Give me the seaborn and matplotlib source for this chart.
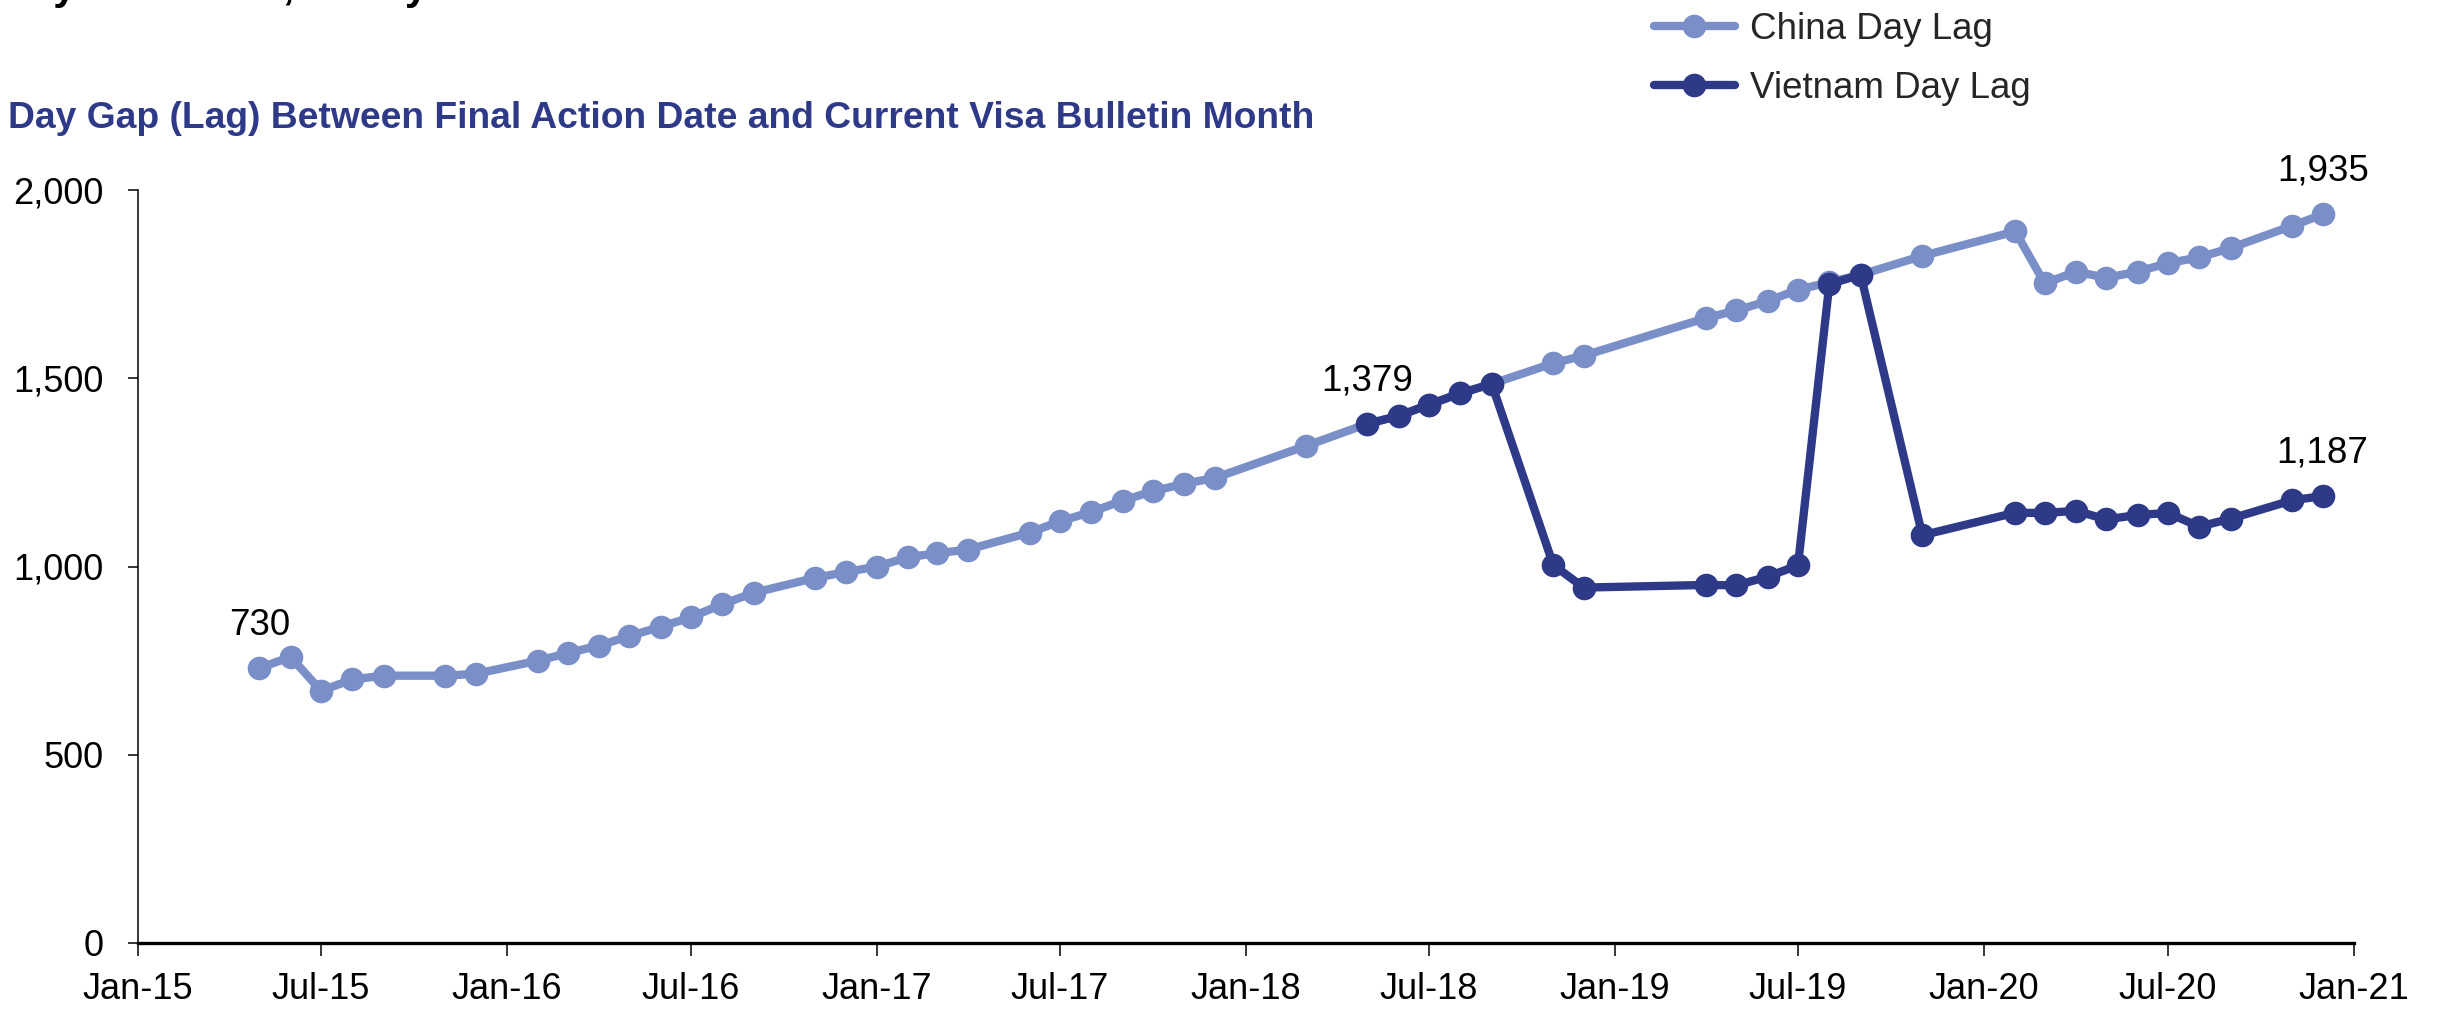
import pandas as pd
import numpy as np
import matplotlib.pyplot as plt
import matplotlib.dates as mdates
import matplotlib.ticker as mticker
import seaborn as sns

sns.set_theme(style="ticks")
plt.rcParams['font.family'] = ['Liberation Sans', 'DejaVu Sans']

# visa bulletin months and day lag
china_months = ['2015-05', '2015-06', '2015-07', '2015-08', '2015-09', '2015-11', '2015-12',
                '2016-02', '2016-03', '2016-04', '2016-05', '2016-06', '2016-07', '2016-08', '2016-09',
                '2016-11', '2016-12', '2017-01', '2017-02', '2017-03', '2017-04',
                '2017-06', '2017-07', '2017-08', '2017-09', '2017-10', '2017-11', '2017-12',
                '2018-03', '2018-05', '2018-06', '2018-07', '2018-08', '2018-09', '2018-11', '2018-12',
                '2019-04', '2019-05', '2019-06', '2019-07', '2019-08', '2019-09', '2019-11',
                '2020-02', '2020-03', '2020-04', '2020-05', '2020-06', '2020-07', '2020-08', '2020-09',
                '2020-11', '2020-12']
china_lag = [730, 760, 670, 700, 710, 710, 715,
             750, 770, 790, 815, 840, 865, 900, 930,
             970, 985, 1000, 1025, 1035, 1045,
             1090, 1120, 1145, 1175, 1200, 1220, 1235,
             1320, 1379, 1400, 1430, 1460, 1485, 1540, 1560,
             1660, 1680, 1705, 1735, 1755, 1775, 1825,
             1890, 1752, 1783, 1767, 1783, 1806, 1821, 1846,
             1905, 1935]

vietnam_months = ['2018-05', '2018-06', '2018-07', '2018-08', '2018-09', '2018-11', '2018-12',
                  '2019-04', '2019-05', '2019-06', '2019-07', '2019-08', '2019-09', '2019-11',
                  '2020-02', '2020-03', '2020-04', '2020-05', '2020-06', '2020-07', '2020-08', '2020-09',
                  '2020-11', '2020-12']
vietnam_lag = [1379, 1400, 1430, 1460, 1485, 1004, 944,
               951, 950, 973, 1003, 1750, 1775, 1083,
               1143, 1142, 1148, 1125, 1137, 1142, 1106, 1127,
               1176, 1187]

china_color = '#7A8EC8'
vietnam_color = '#2E3A87'

df_china = pd.DataFrame({'Month': pd.to_datetime(china_months), 'Lag': china_lag})
df_vn = pd.DataFrame({'Month': pd.to_datetime(vietnam_months), 'Lag': vietnam_lag})

fig = plt.figure(figsize=(24.4, 10.09), dpi=100)
ax = fig.add_axes([138/2440, 1 - 943/1009, (2354-138)/2440, (943-190)/1009])

sns.lineplot(data=df_china, x='Month', y='Lag', ax=ax, color=china_color, linewidth=6,
             marker='o', markersize=17, markeredgewidth=0, label='China Day Lag')
sns.lineplot(data=df_vn, x='Month', y='Lag', ax=ax, color=vietnam_color, linewidth=6,
             marker='o', markersize=17, markeredgewidth=0, label='Vietnam Day Lag')

ax.set_xlim(pd.Timestamp('2015-01-01'), pd.Timestamp('2021-01-01'))
ax.set_ylim(0, 2000)
ax.xaxis.set_major_locator(mdates.MonthLocator(bymonth=[1, 7]))
ax.xaxis.set_major_formatter(mdates.DateFormatter('%b-%y'))
ax.yaxis.set_major_locator(mticker.MultipleLocator(500))
ax.yaxis.set_major_formatter(mticker.StrMethodFormatter('{x:,.0f}'))
ax.set_xlabel('')
ax.set_ylabel('')

sns.despine(ax=ax)
ax.spines['bottom'].set_linewidth(2.4)
ax.spines['left'].set_linewidth(1.1)
ax.spines['bottom'].set_color('black')
ax.spines['left'].set_color('black')
ax.tick_params(axis='x', length=9, width=1.1, pad=12, labelsize=26, colors='black')
ax.tick_params(axis='y', length=7, width=1.1, pad=18, labelsize=26, colors='black')

# point labels
label_pts = [(df_china['Month'].iloc[0], china_lag[0]),
             (df_vn['Month'].iloc[0], vietnam_lag[0]),
             (df_china['Month'].iloc[-1], china_lag[-1]),
             (df_vn['Month'].iloc[-1], vietnam_lag[-1])]
for d, v in label_pts:
    ax.annotate(f'{v:,}', xy=(d, v), xytext=(0, 31), textcoords='offset points',
                ha='center', va='center', fontsize=26.5, color='black')

ax.legend(loc='upper left', bbox_to_anchor=(1654/2440, 1 - 12/1009), bbox_transform=fig.transFigure,
          frameon=False, fontsize=26.5, handlelength=2.2, handletextpad=0.42, labelspacing=0.64,
          borderpad=0, borderaxespad=0)

fig.text(8/2440, 1 - 118/1009, 'Day Gap (Lag) Between Final Action Date and Current Visa Bulletin Month',
         fontsize=26.8, fontweight='bold', color=vietnam_color, va='center', ha='left')
fig.text(0.0, 1 + 1/1009, 'Day Wait Time, Yearly', fontsize=30, fontweight='bold',
         color='black', va='baseline', ha='left')

fig.savefig('out.png', dpi=100)
